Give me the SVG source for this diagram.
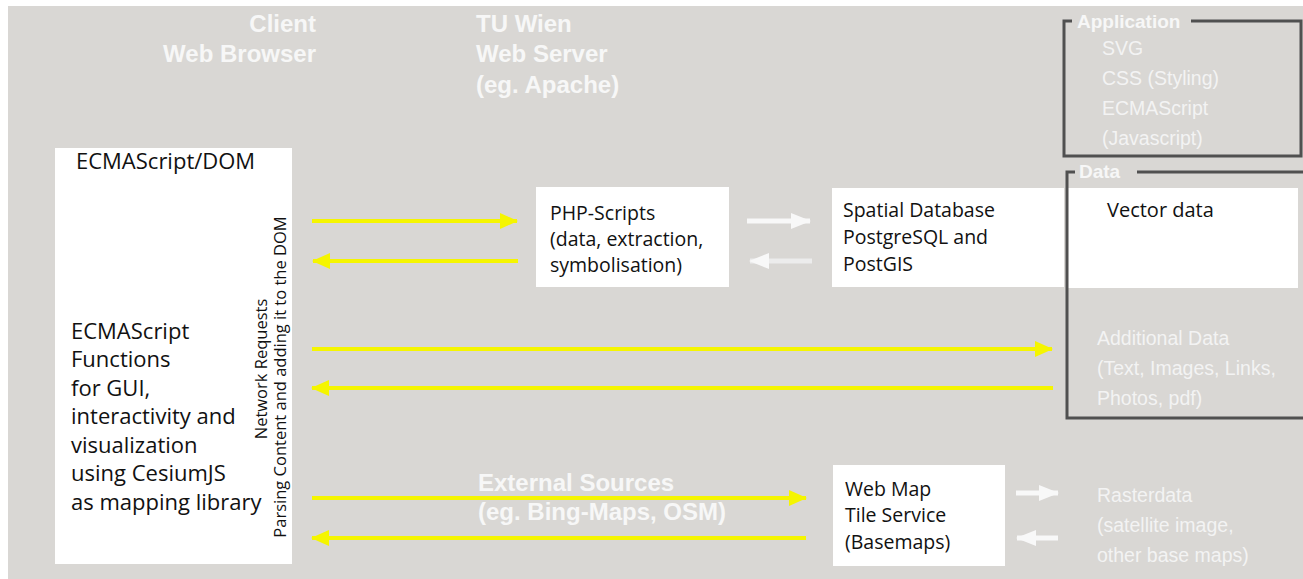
<svg xmlns="http://www.w3.org/2000/svg" width="1303" height="579" viewBox="0 0 1303 579">
<defs>
<style>
.bg{fill:#d9d7d4}
.box{fill:#ffffff}
.t{font-family:"Open Sans","Noto Sans",sans-serif;font-size:19.5px;fill:#111}
.tl{font-family:"Open Sans","Noto Sans",sans-serif;font-size:22px;fill:#111}
.vt{font-family:"Open Sans","Noto Sans",sans-serif;font-size:16.5px;fill:#111}
.h{font-family:"Liberation Sans",Arial,sans-serif;font-size:24px;font-weight:bold;fill:#f7f7f7}
.fl{font-family:"Liberation Sans",Arial,sans-serif;font-size:19px;font-weight:bold;fill:#f7f7f7}
.it{font-family:"Liberation Sans",Arial,sans-serif;font-size:19.5px;fill:#f3f3f3}
.frame{fill:none;stroke:#505050;stroke-width:3}
.ya{stroke:#f5f500;stroke-width:4;fill:none}
.wa{stroke:#f8f8f8;stroke-width:5;fill:none}
</style>
<marker id="yh" viewBox="0 0 18 16" refX="17" refY="8" markerWidth="18" markerHeight="16" markerUnits="userSpaceOnUse" orient="auto">
<path d="M0,0 L18,8 L0,16 z" fill="#f5f500"/>
</marker>
<marker id="wh" viewBox="0 0 20 16" refX="19" refY="8" markerWidth="20" markerHeight="16" markerUnits="userSpaceOnUse" orient="auto">
<path d="M0,0 L20,8 L0,16 z" fill="#f8f8f8"/>
</marker>
</defs>
<rect x="0" y="0" width="1303" height="579" fill="#ffffff"/>
<rect class="bg" x="8" y="6" width="1295" height="573"/>

<g id="headers">
<text class="h" x="316" y="32" text-anchor="end">Client</text>
<text class="h" x="316" y="62" text-anchor="end">Web Browser</text>
<text class="h" x="476" y="32">TU Wien</text>
<text class="h" x="476" y="62">Web Server</text>
<text class="h" x="476" y="93">(eg. Apache)</text>
</g>

<g id="client">
<rect class="box" x="55" y="148" width="237" height="416"/>
<text class="tl" x="76" y="169">ECMAScript/DOM</text>
<text class="tl" x="71" y="339">ECMAScript</text>
<text class="tl" x="71" y="367">Functions</text>
<text class="tl" x="71" y="396">for GUI,</text>
<text class="tl" x="71" y="424">interactivity and</text>
<text class="tl" x="71" y="453">visualization</text>
<text class="tl" x="71" y="481">using CesiumJS</text>
<text class="tl" x="71" y="510">as mapping library</text>
<text class="vt" transform="translate(267,369) rotate(-90)" text-anchor="middle">Network Requests</text>
<text class="vt" transform="translate(286,377) rotate(-90)" text-anchor="middle">Parsing Content and adding it to the DOM</text>
</g>

<g id="php">
<rect class="box" x="536" y="187" width="193" height="100"/>
<text class="t" x="550" y="220">PHP-Scripts</text>
<text class="t" x="550" y="246">(data, extraction,</text>
<text class="t" x="550" y="272">symbolisation)</text>
</g>

<g id="spatialdb">
<rect class="box" x="832" y="188" width="232" height="99"/>
<text class="t" x="843" y="217">Spatial Database</text>
<text class="t" x="843" y="244">PostgreSQL and</text>
<text class="t" x="843" y="271">PostGIS</text>
</g>

<g id="vectordata">
<rect class="box" x="1068" y="188" width="230" height="100"/>
<text class="t" x="1107" y="217" style="font-size:20px">Vector data</text>
</g>

<g id="application">
<path class="frame" d="M1072,21 H1064 V156 H1301 V21 H1191"/>
<text class="fl" x="1077" y="28">Application</text>
<text class="it" x="1102" y="55">SVG</text>
<text class="it" x="1102" y="85">CSS (Styling)</text>
<text class="it" x="1102" y="115">ECMAScript</text>
<text class="it" x="1102" y="145">(Javascript)</text>
</g>

<g id="data">
<path class="frame" d="M1075,172 H1067 V418 H1303"/>
<path class="frame" d="M1137,172 H1303"/>
<text class="fl" x="1079" y="178">Data</text>
</g>

<g id="additional">
<text class="it" x="1097" y="345">Additional Data</text>
<text class="it" x="1097" y="375">(Text, Images, Links,</text>
<text class="it" x="1097" y="405">Photos, pdf)</text>
</g>

<g id="webmap">
<rect class="box" x="833" y="465" width="172" height="101"/>
<text class="t" x="845" y="496">Web Map</text>
<text class="t" x="845" y="522">Tile Service</text>
<text class="t" x="845" y="549">(Basemaps)</text>
</g>

<g id="raster">
<text class="it" x="1097" y="502">Rasterdata</text>
<text class="it" x="1097" y="532">(satellite image,</text>
<text class="it" x="1097" y="562">other base maps)</text>
</g>

<g id="external">
<text class="h" x="478" y="491">External Sources</text>
<text class="h" x="478" y="520">(eg. Bing-Maps, OSM)</text>
</g>

<g id="connectors">
<line class="ya" x1="312" y1="221" x2="517" y2="221" marker-end="url(#yh)"/>
<line class="ya" x1="518" y1="261" x2="313" y2="261" marker-end="url(#yh)"/>
<line class="ya" x1="312" y1="349" x2="1052" y2="349" marker-end="url(#yh)"/>
<line class="ya" x1="1053" y1="388" x2="312" y2="388" marker-end="url(#yh)"/>
<line class="ya" x1="312" y1="498" x2="806" y2="498" marker-end="url(#yh)"/>
<line class="ya" x1="806" y1="538" x2="312" y2="538" marker-end="url(#yh)"/>
<line class="wa" x1="747" y1="221" x2="810" y2="221" marker-end="url(#wh)"/>
<line class="wa" x1="812" y1="261" x2="750" y2="261" marker-end="url(#wh)" style="stroke:#ececec"/>
<line class="wa" x1="1016" y1="493" x2="1058" y2="493" marker-end="url(#wh)"/>
<line class="wa" x1="1058" y1="538" x2="1017" y2="538" marker-end="url(#wh)"/>
</g>
</svg>
